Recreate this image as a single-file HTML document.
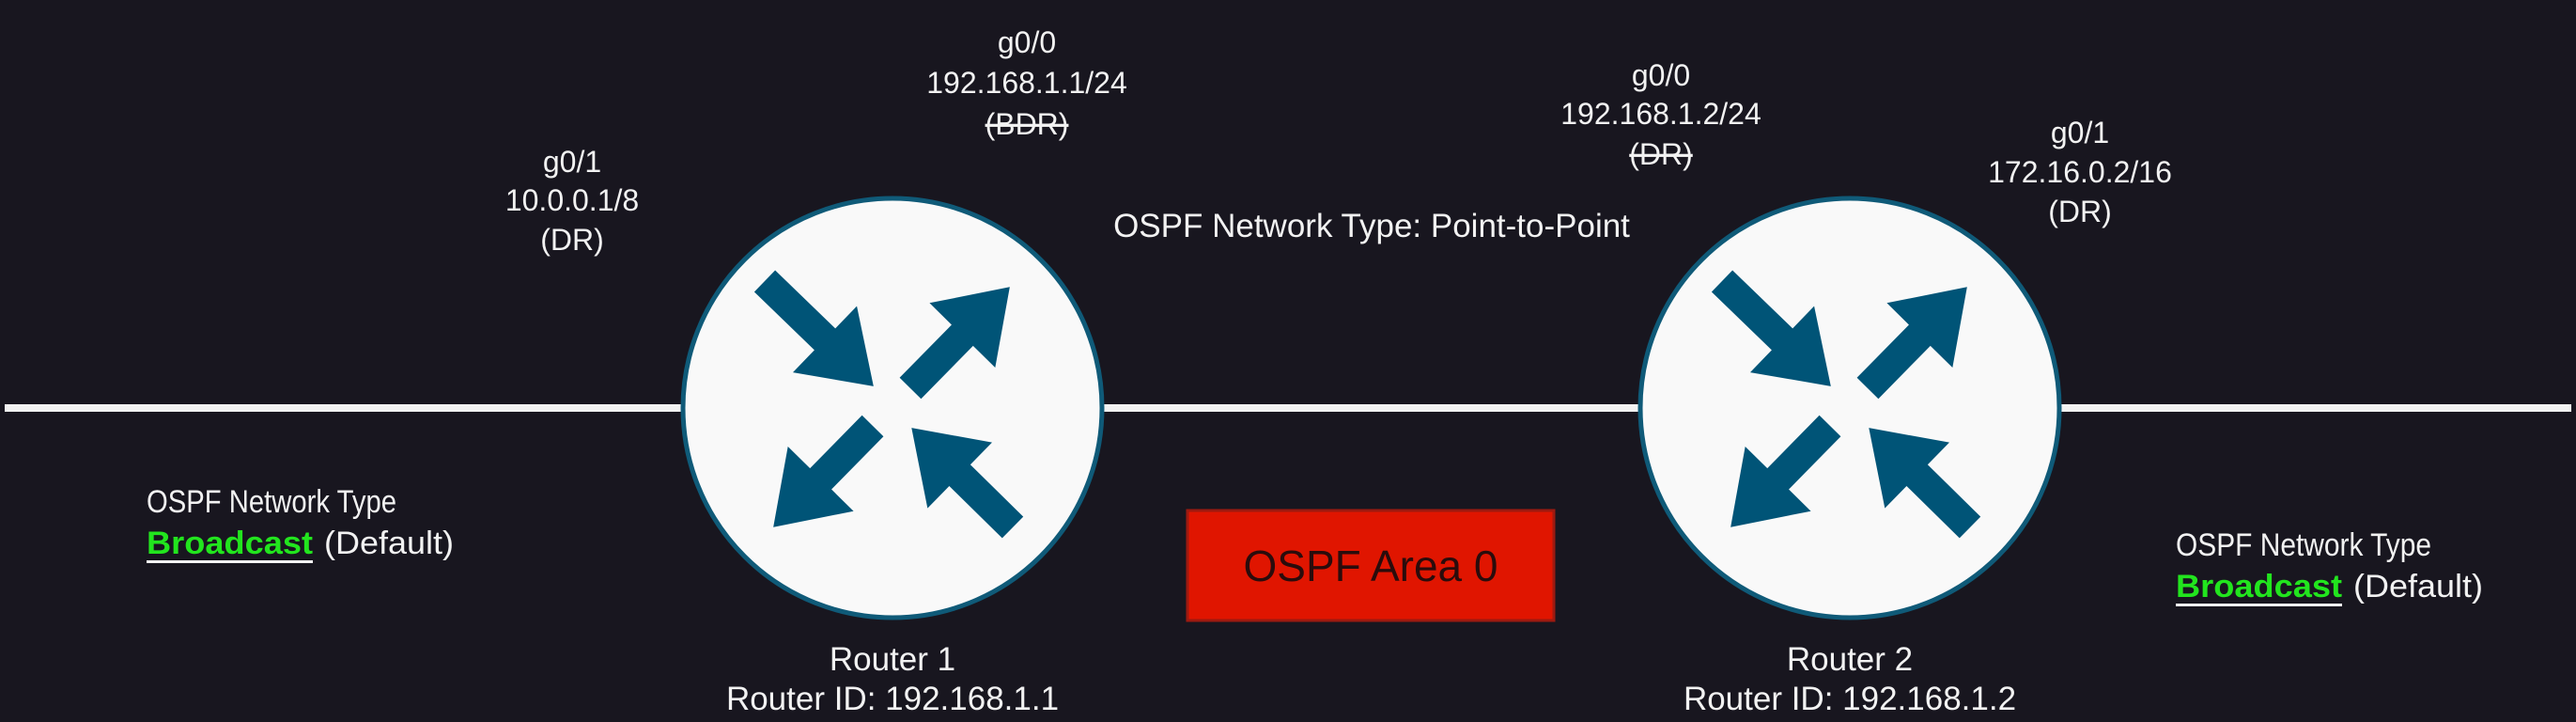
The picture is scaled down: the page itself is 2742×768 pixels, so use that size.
<!DOCTYPE html>
<html><head><meta charset="utf-8"><style>
html,body{margin:0;padding:0;background:#18161f;}
svg{display:block}
text{font-family:"Liberation Sans",Arial,sans-serif;fill:#f2f2f2;}
</style></head><body>
<svg width="2742" height="768" viewBox="0 0 2742 768" xmlns="http://www.w3.org/2000/svg">
<rect width="2742" height="768" fill="#18161f"/>
<rect x="5" y="430" width="2732" height="8" fill="#f2f2f2"/>

<defs>
<g id="router">
  <circle r="223" fill="#f9f9f9" stroke="#0f5a78" stroke-width="5"/>
  <g fill="#005477">
    <polygon transform="translate(-136,-135) rotate(44)" points="0,-16 89,-16 89,-49 161,0 89,49 89,16 0,16"/>
    <polygon transform="translate(19,-21) rotate(-45.5)" points="0,-16 79,-16 79,-49 151,0 79,49 79,16 0,16"/>
    <polygon transform="translate(-21,19) rotate(134.5)" points="0,-16 79,-16 79,-49 151,0 79,49 79,16 0,16"/>
    <polygon transform="translate(128,127) rotate(224.5)" points="0,-16 79,-16 79,-49 151,0 79,49 79,16 0,16"/>
  </g>
</g>
</defs>
<use href="#router" x="950" y="434"/>
<use href="#router" x="1969" y="434"/>

<g font-size="32" text-anchor="middle">
  <text x="609" y="183">g0/1</text>
  <text x="609" y="224">10.0.0.1/8</text>
  <text x="609" y="266">(DR)</text>

  <text x="1093" y="56">g0/0</text>
  <text x="1093" y="99">192.168.1.1/24</text>
  <text x="1093" y="143" text-decoration="line-through">(BDR)</text>

  <text x="1768" y="91">g0/0</text>
  <text x="1768" y="132">192.168.1.2/24</text>
  <text x="1768" y="175" text-decoration="line-through">(DR)</text>

  <text x="2214" y="152">g0/1</text>
  <text x="2214" y="194">172.16.0.2/16</text>
  <text x="2214" y="236">(DR)</text>
</g>
<g font-size="35" text-anchor="middle">
  <text x="1460" y="252">OSPF Network Type: Point-to-Point</text>
  <text x="950" y="713">Router 1</text>
  <text x="950" y="755">Router ID: 192.168.1.1</text>
  <text x="1969" y="713">Router 2</text>
  <text x="1969" y="755">Router ID: 192.168.1.2</text>
</g>

<g font-size="34">
  <text x="156" y="545" textLength="266" lengthAdjust="spacingAndGlyphs">OSPF Network Type</text>
  <text x="156" y="589" textLength="177" lengthAdjust="spacingAndGlyphs" style="fill:#22e51e;font-weight:bold">Broadcast</text>
  <text x="345" y="589" textLength="138" lengthAdjust="spacingAndGlyphs">(Default)</text>
  <rect x="156" y="596" width="177" height="3" fill="#f2f2f2"/>

  <text x="2316" y="591" textLength="272" lengthAdjust="spacingAndGlyphs">OSPF Network Type</text>
  <text x="2316" y="635" textLength="177" lengthAdjust="spacingAndGlyphs" style="fill:#22e51e;font-weight:bold">Broadcast</text>
  <text x="2505" y="635" textLength="138" lengthAdjust="spacingAndGlyphs">(Default)</text>
  <rect x="2316" y="642" width="177" height="3" fill="#f2f2f2"/>
</g>

<rect x="1264" y="543" width="390" height="117" fill="#e01500" stroke="#9e1a10" stroke-width="3"/>
<text x="1459" y="618" font-size="46" text-anchor="middle" style="fill:#2a0c0c">OSPF Area 0</text>
</svg>
</body></html>
